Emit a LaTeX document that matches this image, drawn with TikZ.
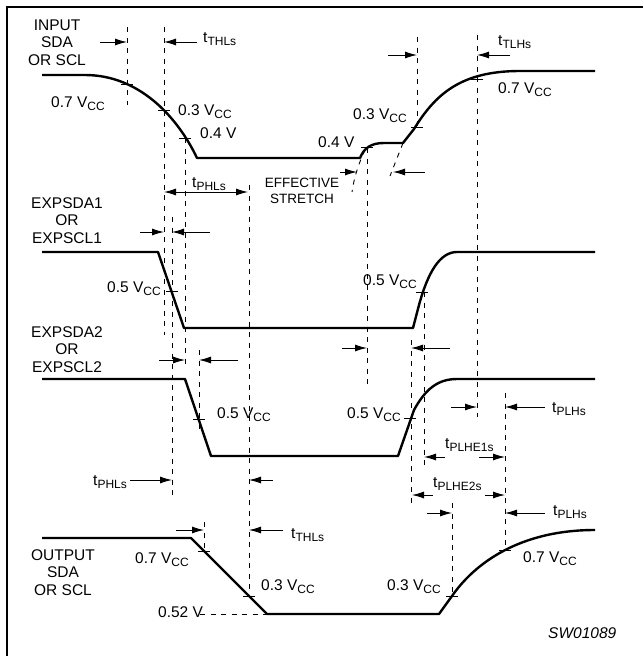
\documentclass[tikz,border=0pt]{standalone}
\usepackage{amsmath}
\usepackage{fontspec}
\setmainfont{Liberation Sans}
\usepackage{tikz}
\usepackage{xcolor}
\usetikzlibrary{arrows.meta}

\newcommand{\sbx}[1]{\raisebox{-3.5pt}{\fontsize{12}{12}\selectfont #1}}
\newcommand{\vcc}{V\sbx{CC}}
\newcommand{\tm}[1]{t\sbx{#1}}

\begin{document}
\begin{tikzpicture}[x=1pt,y=-1pt,
    >={Latex[length=12pt,width=7pt]},
    wave/.style={line width=2.4pt,line join=round},
    guide/.style={line width=0.9pt,dash pattern=on 5pt off 5.5pt},
    tk/.style={line width=0.9pt},
    arr/.style={line width=0.9pt,->},
    lbl/.style={inner sep=0pt,font=\fontsize{15.5}{17.5}\selectfont},
    sig/.style={lbl,align=center,anchor=base}]
    \useasboundingbox (0,0) rectangle (643,656);
    \draw[line width=2pt] (7,656) -- (7,7) -- (643,7);
    % waveforms
    \draw[wave] (42,75) -- (85,75) .. controls (140,75) and (178,118) .. (197,158)
        -- (360,158) .. controls (364,148) and (371,143) .. (384,143) -- (403,143)
        -- (414,129) .. controls (435,95) and (460,71) .. (520,71) -- (595,71);
    \draw[wave] (42,252) -- (158,252) -- (184,328) -- (413,328) -- (419,305)
        .. controls (428,272) and (440,252) .. (457,252) -- (595,252);
    \draw[wave] (42,379) -- (185,379) -- (211,456) -- (398,456) -- (414,410)
        .. controls (425,390) and (437,379) .. (457,379) -- (595,379);
    \draw[wave] (42,538) -- (191,538) -- (267,614) -- (439,614) -- (452,596)
        .. controls (475,563) and (520,530) .. (595,530);
    % level ticks
    \foreach \x/\y in {127/84,164/110,185/138,367/147,417/127,477/79,
        172/291,422/292,199/419,410/418,204/551,249/596,452/596,505/550}
        \draw[tk] (\x,\y) ++(-6,0) -- ++(12,0);
    % guides
    \foreach \x/\ya/\yb in {127/27/105,164/27/335,185/138/365,172/217/497,
        199/350/430,249/185/597,204/522/550,367/148/385,417/37/127,
        477/35/417,424/292/470,411/340/505,505/393/549,452/503/596}
        \draw[guide] (\x,\ya) -- (\x,\yb);
    \draw[guide] (200,614) -- (267,614);
    \draw[guide] (365,150) .. controls (358,165) and (354,178) .. (352,192);
    \draw[guide] (403,143) -- (390,176);
    % timing arrows
    \foreach \x/\y/\l in {127/42/-27,164/42/33,417/55/-29,477/55/33,
        164/232/-24,172/232/38,185/360/-26,199/360/39,172/480/-42,249/480/24,
        357/172/-17,393/172/32,367/348/-25,411/348/39,477/407/-26,505/407/40,
        424/457/21,505/457/-26,412/495/21,505/495/-20,204/530/-28,249/530/34,
        452/513/-25,505/513/40}
        \draw[arr] (\x,\y) ++(\l,0) -- (\x,\y);
    \coordinate (phlA) at (164,192);
    \coordinate (phlB) at (248,192);
    \draw[line width=0.9pt,<->] (phlA) -- (phlB);
    % signal names
    \node[sig] (nin) at (57,65) {INPUT\\SDA\\OR SCL};
    \node[sig] (nx1) at (67,243) {EXPSDA1\\OR\\EXPSCL1};
    \node[sig] (nx2) at (67,372) {EXPSDA2\\OR\\EXPSCL2};
    \node[sig] (nout) at (63,595) {OUTPUT\\SDA\\OR SCL};
    \node[sig,font=\fontsize{13.5}{16}\selectfont] (nst) at (302,203) {EFFECTIVE\\STRETCH};
    % levels
    \node[lbl,anchor=base west] (v1) at (51,107) {0.7 \vcc};
    \node[lbl,anchor=base west] (v2) at (178,115) {0.3 \vcc};
    \node[lbl,anchor=base west] (v3) at (200,138) {0.4 V};
    \node[lbl,anchor=base west] (v4) at (318,147) {0.4 V};
    \node[lbl,anchor=base west] (v5) at (353,119) {0.3 \vcc};
    \node[lbl,anchor=base west] (v6) at (498,93) {0.7 \vcc};
    \node[lbl,anchor=base west] (v7) at (107,292) {0.5 \vcc};
    \node[lbl,anchor=base west] (v8) at (363,285) {0.5 \vcc};
    \node[lbl,anchor=base west] (v9) at (217,418) {0.5 \vcc};
    \node[lbl,anchor=base west] (v10) at (347,418) {0.5 \vcc};
    \node[lbl,anchor=base west] (v11) at (135,563) {0.7 \vcc};
    \node[lbl,anchor=base west] (v12) at (158,617) {0.52 V};
    \node[lbl,anchor=base west] (v13) at (261,590) {0.3 \vcc};
    \node[lbl,anchor=base west] (v14) at (387,590) {0.3 \vcc};
    \node[lbl,anchor=base west] (v15) at (523,562) {0.7 \vcc};
    % timing names
    \node[lbl,anchor=base west] (t1) at (203,42) {\tm{THLs}};
    \node[lbl,anchor=base west] (t2) at (498,45) {\tm{TLHs}};
    \node[lbl,anchor=base west] (t3) at (192,187) {\tm{PHLs}};
    \node[lbl,anchor=base west] (t4) at (93,485) {\tm{PHLs}};
    \node[lbl,anchor=base west] (t5) at (552,412) {\tm{PLHs}};
    \node[lbl,anchor=base west] (t6) at (445,448) {\tm{PLHE1s}};
    \node[lbl,anchor=base west] (t7) at (433,487) {\tm{PLHE2s}};
    \node[lbl,anchor=base west] (t8) at (291,538) {\tm{THLs}};
    \node[lbl,anchor=base west] (t9) at (553,515) {\tm{PLHs}};
    \node[lbl,anchor=base west,font=\fontsize{15.5}{17.5}\selectfont\itshape] (sw) at (548,638) {SW01089};
\end{tikzpicture}
\end{document}
